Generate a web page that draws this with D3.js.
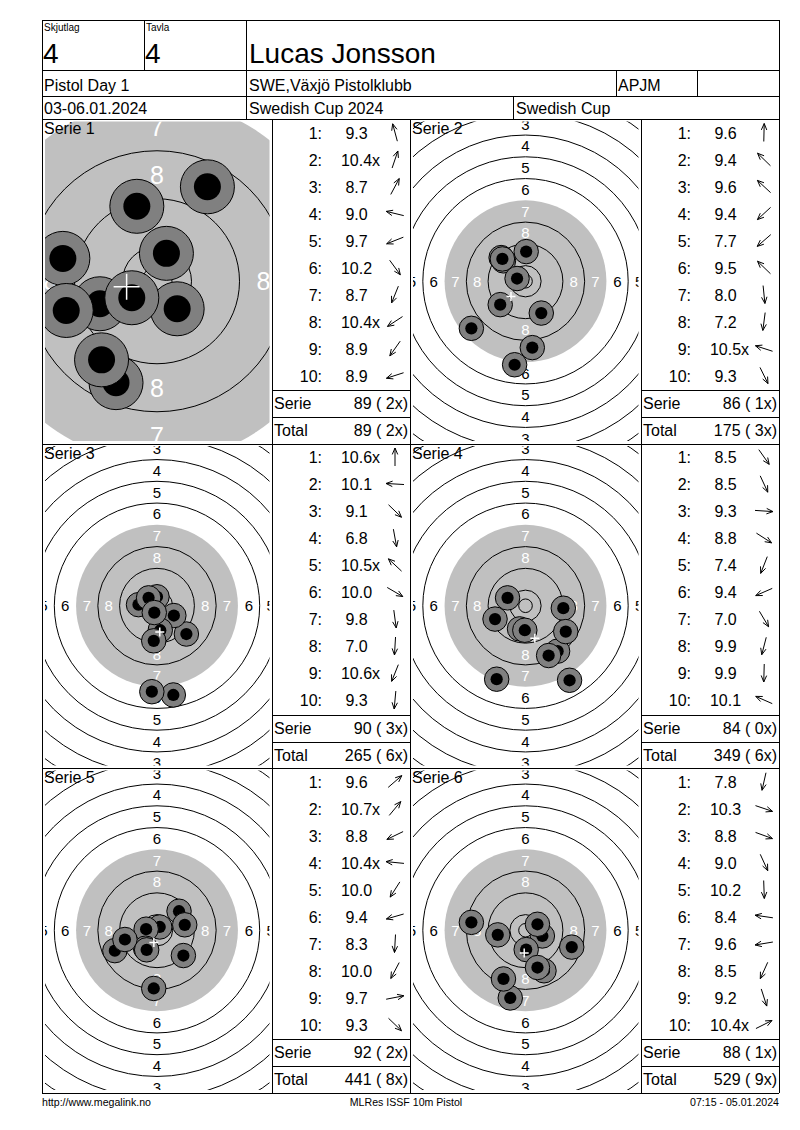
<!DOCTYPE html>
<html>
<head>
<meta charset="utf-8">
<script src="https://cdn.jsdelivr.net/npm/d3@7"></script>
<style>
  body { margin: 0; background: #fff; }
  svg { display: block; font-family: "Liberation Sans", Arial, sans-serif; }
</style>
</head>
<body>
<script>
// header texts
const skjutlag = '4';
const tavla = '4';
const shooter = 'Lucas Jonsson';
const eventName = 'Pistol Day 1';
const club = 'SWE,Växjö Pistolklubb';
const classCode = 'APJM';
const dates = '03-06.01.2024';
const competition = 'Swedish Cup 2024';
const cupName = 'Swedish Cup';
const footer = ['http://www.megalink.no', 'MLRes ISSF 10m Pistol', '07:15 - 05.01.2024'];

// series
const serieNames = ['Serie 1', 'Serie 2', 'Serie 3', 'Serie 4', 'Serie 5', 'Serie 6'];
const scores = [
  ['9.3', '10.4x', '8.7', '9.0', '9.7', '10.2', '8.7', '10.4x', '8.9', '8.9'],
  ['9.6', '9.4', '9.6', '9.4', '7.7', '9.5', '8.0', '7.2', '10.5x', '9.3'],
  ['10.6x', '10.1', '9.1', '6.8', '10.5x', '10.0', '9.8', '7.0', '10.6x', '9.3'],
  ['8.5', '8.5', '9.3', '8.8', '7.4', '9.4', '7.0', '9.9', '9.9', '10.1'],
  ['9.6', '10.7x', '8.8', '10.4x', '10.0', '9.4', '8.3', '10.0', '9.7', '9.3'],
  ['7.8', '10.3', '8.8', '9.0', '10.2', '8.4', '9.6', '8.5', '9.2', '10.4x']
];
// shot positions in mm from target centre (x right, y up)
const shotX = [
  [-3.36, 1.57, 8.40, -15.69, -9.52, 3.36, -6.83, -4.20, -9.24, -15.13],
  [0.25, -8.96, -8.1, -9.3, -19.9, -8.5, 2.5, -4.0, -3.1, 5.8],
  [0.0, -6.8, 10.8, 6.0, -3.1, 6.2, 1.2, -1.9, -1.0, -1.2],
  [11.8, 8.5, 13.9, 14.8, -10.6, -11.2, 16.2, -2.2, -0.25, -6.6],
  [8.1, 1.0, -15.5, -4.0, -4.2, -11.8, -1.2, -3.8, 10.2, 9.7],
  [-5.6, 6.2, 17.0, 6.8, 0.25, -19.9, -10.2, -8.1, 4.4, 4.4]
];
const shotY = [
  [12.49, 4.65, 15.74, 3.81, -3.75, -4.59, -16.9, -2.75, -13.1, -4.87],
  [10.9, 8.7, 7.5, -8.6, -17.3, 8.2, -24.4, -30.7, 1.0, -11.7],
  [3.3, 0.4, -10.4, -32.8, 2.9, -3.6, -9.0, -31.6, -2.5, -12.9],
  [-16.7, -18.3, -0.9, -9.5, -27.0, -4.9, -27.4, -8.5, -9.0, 2.9],
  [7.0, 1.2, -7.5, 0.4, -6.6, -3.4, -21.4, -7.2, 2.0, -9.3],
  [-24.9, -2.1, -6.2, -14.9, -7.1, 2.9, -1.7, -17.9, -13.7, 2.2]
];
const serieSums = ['89 ( 2x)', '86 ( 1x)', '90 ( 3x)', '84 ( 0x)', '92 ( 2x)', '88 ( 1x)'];
const totals = ['89 ( 2x)', '175 ( 3x)', '265 ( 6x)', '349 ( 6x)', '441 ( 8x)', '529 ( 9x)'];

// ISSF 10m pistol target, ring diameters 1..10 in mm, inner ten, pellet
const ringDiameters = [155.5, 139.5, 123.5, 107.5, 91.5, 75.5, 59.5, 43.5, 27.5, 11.5];
const innerTen = 5.0;
const pellet = 4.5;

// px per mm for each target view (first one is zoomed in)
const pxPerMm = [6.0, 2.72, 2.72, 2.72, 2.72, 2.72];

const svg = d3.select('body').append('svg')
  .attr('width', 800)
  .attr('height', 1130);

const left = 42, right = 779, top0 = 20;
const blockTop = 119, blockH = 324.5;
const bottom = blockTop + 3 * blockH;
const GRAY = '#c0c0c0', SHOT = '#808080';

// grid lines
const grid = svg.append('g')
  .attr('stroke', '#000')
  .attr('stroke-width', 1)
  .attr('shape-rendering', 'crispEdges');

const hLines = [
  [left, right, top0], [left, right, 70], [left, right, 96], [left, right, blockTop],
  [left, right, blockTop + blockH], [left, right, blockTop + 2 * blockH], [left, right, bottom]
];
const vLines = [
  [left, top0, bottom], [right, top0, bottom],
  [144, top0, 70], [246, top0, 119], [616, 70, 96], [697, 70, 96], [513, 96, 119],
  [272, blockTop, bottom], [410, blockTop, bottom], [641, blockTop, bottom]
];
for (let r = 0; r < 3; r++) {
  const t = blockTop + r * blockH;
  hLines.push([272, 410, t + 271], [272, 410, t + 298], [641, right, t + 271], [641, right, t + 298]);
}
grid.selectAll('line.h').data(hLines).enter().append('line')
  .attr('x1', d => d[0]).attr('x2', d => d[1])
  .attr('y1', d => Math.round(d[2]) + 0.5).attr('y2', d => Math.round(d[2]) + 0.5);
grid.selectAll('line.v').data(vLines).enter().append('line')
  .attr('x1', d => d[0] + 0.5).attr('x2', d => d[0] + 0.5)
  .attr('y1', d => d[1]).attr('y2', d => d[2]);

// header
const head = svg.append('g').attr('fill', '#000');
const txt = (g, x, y, s, size, anchor) => g.append('text')
  .attr('x', x).attr('y', y)
  .attr('font-size', size)
  .attr('text-anchor', anchor || 'start')
  .text(s);

txt(head, 44, 31, 'Skjutlag', 10);
txt(head, 146, 31, 'Tavla', 10);
txt(head, 43, 63, skjutlag, 28);
txt(head, 145, 63, tavla, 28);
txt(head, 249, 63, shooter, 28);
txt(head, 44, 91, eventName, 16);
txt(head, 249, 91, club, 16);
txt(head, 618, 91, classCode, 16);
txt(head, 44, 114, dates, 16);
txt(head, 249, 114, competition, 16);
txt(head, 516, 114, cupName, 16);

// targets + tables
const defs = svg.append('defs');

serieNames.forEach((name, i) => {
  const col = i % 2, row = Math.floor(i / 2);
  const x0 = col === 0 ? 42 : 410;
  const x1 = col === 0 ? 272 : 641;
  const tx1 = col === 0 ? 410 : 779;
  const t = blockTop + row * blockH;
  const cx = (x0 + x1) / 2, cy = t + blockH / 2;
  const k = pxPerMm[i];
  const zoomed = k > 4;

  const x = d3.scaleLinear().domain([-1, 1]).range([cx - k, cx + k]);
  const y = d3.scaleLinear().domain([-1, 1]).range([cy + k, cy - k]);
  const r = d3.scaleLinear().domain([0, 1]).range([0, k]);

  defs.append('clipPath').attr('id', 'clip' + i)
    .append('rect').attr('x', x0 + 3).attr('y', t + 2.5)
    .attr('width', x1 - x0 - 5.5).attr('height', blockH - 5);

  const g = svg.append('g').attr('clip-path', `url(#clip${i})`);

  const radii = ringDiameters.map(d => d / 2);

  // aiming black (drawn light grey)
  g.append('circle')
    .attr('cx', x(0)).attr('cy', y(0))
    .attr('r', r(radii[6]) + (zoomed ? 2 : 0))
    .attr('fill', GRAY);

  const lineRings = radii.filter((d, n) => n !== 6).concat([innerTen / 2]);
  g.selectAll('circle.ring').data(lineRings).enter().append('circle')
    .attr('cx', x(0)).attr('cy', y(0))
    .attr('r', d => r(d))
    .attr('fill', 'none')
    .attr('stroke', '#000')
    .attr('stroke-width', 1);

  // ring numbers 1..8
  const labels = [];
  for (let n = 1; n <= 8; n++) {
    const rad = (radii[n - 1] + radii[n]) / 2;
    [[0, 1], [0, -1], [1, 0], [-1, 0]].forEach(dv => labels.push({ n, px: dv[0] * rad, py: dv[1] * rad }));
  }
  g.selectAll('text.lab').data(labels).enter().append('text')
    .attr('x', d => x(d.px)).attr('y', d => y(d.py))
    .attr('text-anchor', 'middle')
    .attr('dominant-baseline', 'central')
    .attr('font-size', zoomed ? 25 : 15)
    .attr('fill', d => d.n >= 7 ? '#fff' : '#000')
    .text(d => d.n);

  // shots
  const shots = shotX[i].map((sx, j) => ({ sx, sy: shotY[i][j] }));
  const sg = g.selectAll('g.shot').data(shots).enter().append('g');
  sg.append('circle')
    .attr('cx', d => x(d.sx)).attr('cy', d => y(d.sy))
    .attr('r', r(pellet))
    .attr('fill', SHOT)
    .attr('stroke', '#000')
    .attr('stroke-width', 1);
  sg.append('circle')
    .attr('cx', d => x(d.sx)).attr('cy', d => y(d.sy))
    .attr('r', r(pellet / 2))
    .attr('fill', '#000');

  // mean point of impact
  const mx = d3.mean(shots, d => d.sx), my = d3.mean(shots, d => d.sy);
  const cs = zoomed ? 13 : 4.5;
  g.append('path')
    .attr('d', `M${x(mx) - cs},${y(my)}H${x(mx) + cs}M${x(mx)},${y(my) - cs}V${y(my) + cs}`)
    .attr('stroke', '#fff')
    .attr('stroke-width', 1.5);

  txt(svg, x0 + 2, t + 15, name, 16);

  // table
  const tb = svg.append('g');
  scores[i].forEach((s, j) => {
    const base = t + 19.5 + 27 * j;
    txt(tb, x1 + 50, base, (j + 1) + ':', 16, 'end');
    const num = s.replace('x', '');
    const nt = txt(tb, x1 + 84.5, base, num, 16, 'middle');
    if (s.endsWith('x')) {
      const w = nt.node().getComputedTextLength();
      txt(tb, x1 + 84.5 + w / 2, base, 'x', 16);
    }
    // direction arrow
    const a = Math.atan2(shots[j].sy, shots[j].sx);
    const ux = Math.cos(a), uy = -Math.sin(a);
    const ax = x1 + 123, ay = base - 6;
    const tipX = ax + ux * 9, tipY = ay + uy * 9;
    const h = 7, sp = 0.4;
    const h1x = tipX - h * (ux * Math.cos(sp) - uy * Math.sin(sp));
    const h1y = tipY - h * (ux * Math.sin(sp) + uy * Math.cos(sp));
    const h2x = tipX - h * (ux * Math.cos(-sp) - uy * Math.sin(-sp));
    const h2y = tipY - h * (ux * Math.sin(-sp) + uy * Math.cos(-sp));
    tb.append('path')
      .attr('d', `M${ax - ux * 9},${ay - uy * 9}L${tipX},${tipY}M${h1x},${h1y}L${tipX},${tipY}L${h2x},${h2y}`)
      .attr('fill', 'none')
      .attr('stroke', '#000')
      .attr('stroke-width', 1);
  });
  txt(tb, x1 + 2, t + 290, 'Serie', 16);
  txt(tb, tx1 - 2, t + 290, serieSums[i], 16, 'end');
  txt(tb, x1 + 2, t + 317, 'Total', 16);
  txt(tb, tx1 - 2, t + 317, totals[i], 16, 'end');
});

// footer
const ft = svg.append('g');
txt(ft, left, 1106, footer[0], 10.6);
txt(ft, 406, 1106, footer[1], 10.6, 'middle');
txt(ft, right, 1106, footer[2], 10.6, 'end');
</script>
</body>
</html>
